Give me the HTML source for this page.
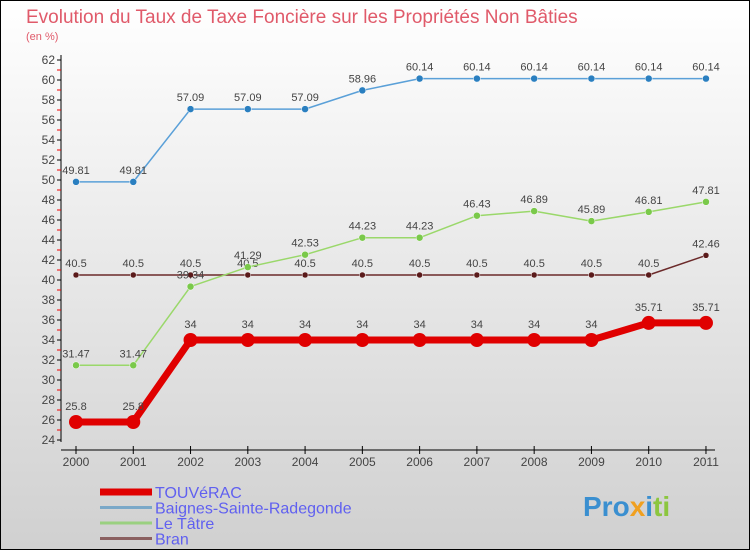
<!DOCTYPE html>
<html><head><meta charset="utf-8"><style>
body{margin:0;width:750px;height:550px;overflow:hidden;font-family:"Liberation Sans",sans-serif}
svg{display:block}
</style></head><body>
<svg id="chart" width="750" height="550" xmlns="http://www.w3.org/2000/svg">
<defs><linearGradient id="bg" x1="0" y1="0" x2="0" y2="1"><stop offset="0" stop-color="#ffffff"/><stop offset="1" stop-color="#d0d0d0"/></linearGradient></defs>
<rect x="0.5" y="0.5" width="749" height="549" fill="url(#bg)" stroke="#000"/>
<text x="26" y="23" font-size="19" fill="#e05a6a">Evolution du Taux de Taxe Foncière sur les Propriétés Non Bâties</text>
<text x="26" y="40" font-size="11" fill="#e05a6a">(en %)</text>
<g id="axes"></g><g id="series"></g><g id="legend"></g>
<text x="583" y="516" font-size="28" font-weight="bold" fill="#3a8fd0">Pro<tspan fill="#f0a020">x</tspan><tspan fill="#3a8fd0">i</tspan><tspan fill="#8cc63f">ti</tspan></text>
</svg>
<script>
const years=[2000,2001,2002,2003,2004,2005,2006,2007,2008,2009,2010,2011];
const touverac=[25.8,25.8,34,34,34,34,34,34,34,34,35.71,35.71];
const baignes=[49.81,49.81,57.09,57.09,57.09,58.96,60.14,60.14,60.14,60.14,60.14,60.14];
const letatre=[31.47,31.47,39.34,41.29,42.53,44.23,44.23,46.43,46.89,45.89,46.81,47.81];
const bran=[40.5,40.5,40.5,40.5,40.5,40.5,40.5,40.5,40.5,40.5,40.5,42.46];
const yTicks=[24,26,28,30,32,34,36,38,40,42,44,46,48,50,52,54,56,58,60,62];
const seriesNames=["TOUVéRAC","Baignes-Sainte-Radegonde","Le Tâtre","Bran"];
const NS="http://www.w3.org/2000/svg";
const X=i=>76+i*57.27, Y=v=>440-(v-24)*10;
function mk(t,a,p){const e=document.createElementNS(NS,t);for(const k in a)e.setAttribute(k,a[k]);if(p)p.appendChild(e);return e;}
const ax=document.getElementById('axes');
const yl=mk('line',{x1:61,y1:55,x2:61,y2:442,stroke:'#000'},ax);


yTicks.forEach(v=>{
  mk('line',{x1:57,y1:Y(v),x2:61,y2:Y(v),stroke:'#000'},ax);
  if(v<62)mk('line',{x1:57,y1:Y(v+1),x2:61,y2:Y(v+1),stroke:'#e00'},ax);
  const t=mk('text',{x:55,y:Y(v)+4,'font-size':12,'text-anchor':'end',fill:'#444'},ax);t.textContent=v;
  
  
});
const xl=mk('line',{x1:61,y1:450,x2:715,y2:450,stroke:'#000'},ax);


years.forEach((y,i)=>{
  mk('line',{x1:X(i),y1:446,x2:X(i),y2:454,stroke:'#000'},ax);
  const t=mk('text',{x:X(i),y:466,'font-size':12,'text-anchor':'middle',fill:'#444'},ax);t.textContent=y;
  
  
});
const sg=document.getElementById('series');
const defs=[[bran,'#6b2a2a','#5a1a1a',1.5,3,'bran'],[letatre,'#9ad86a','#7ac94a',1.5,3.5,'le-tatre'],[baignes,'#5aa0d8','#2a7fc0',1.5,3.5,'baignes'],[touverac,'#e00000','#e00000',7,7,'touverac']];
defs.forEach(([d,lc,pc,w,r,n])=>{
  const g=mk('g',{},sg);
  
  
  const p=mk('polyline',{points:d.map((v,i)=>X(i)+','+Y(v)).join(' '),fill:'none',stroke:lc,'stroke-width':w,'stroke-linejoin':'round'},g);
  
  
  d.forEach((v,i)=>{
    const c=mk('circle',{cx:X(i),cy:Y(v),r:r,fill:pc,stroke:n==='touverac'?'none':'#fff','stroke-width':0.5},g);
    
    
    const t=mk('text',{x:X(i),y:Y(v)-(n==='touverac'?12:8),'font-size':11,'text-anchor':'middle',fill:'#444'},g);t.textContent=v;
    
    
  });
});
const lg=document.getElementById('legend');
const lc=['#e00000','#7aa8c8','#9ad080','#8a6060'],lw=[7,3,3,3];
seriesNames.forEach((s,i)=>{
  const y=492+i*15.5;
  const g=mk('g',{},lg);
  
  
  mk('line',{x1:100,y1:y,x2:152,y2:y,stroke:lc[i],'stroke-width':lw[i]},g);
  const t=mk('text',{x:155,y:y+6,'font-size':16,fill:'#6060f0'},g);t.textContent=s;
});
</script>
</body></html>
